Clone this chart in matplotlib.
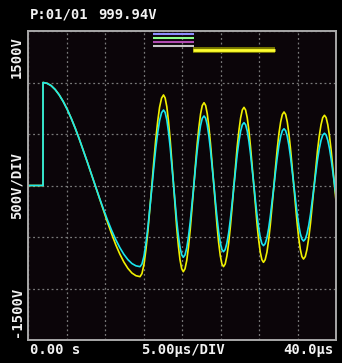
"""
Oscilloscope-style capture: two probe channels, 5 us/DIV, 500 V/DIV.
"""

import matplotlib
import matplotlib.pyplot as plt

matplotlib.use("Agg")

# Sample times (us), shared by both channels.
TIME_US = [
    0.0, 1.95,
    1.95, 2.475, 3.0, 3.525, 4.05, 4.575, 5.1, 5.625, 6.15, 6.675, 7.2, 7.725,
    8.25, 8.775, 9.3, 9.825, 10.35, 10.875, 11.4, 11.925, 12.45, 12.975, 13.5, 14.025,
    14.55, 14.80, 15.06, 15.31, 15.57, 15.82, 16.08, 16.33, 16.58, 16.84, 17.09, 17.35,
    17.6, 17.81, 18.03, 18.24, 18.46, 18.67, 18.89, 19.1, 19.31, 19.53, 19.74, 19.96,
    20.17, 20.39, 20.62, 20.84, 21.07, 21.29, 21.52, 21.74, 21.96, 22.19, 22.41, 22.63,
    22.86, 23.07, 23.28, 23.49, 23.70, 23.91, 24.13, 24.34, 24.55, 24.76, 24.97, 25.18,
    25.39, 25.61, 25.83, 26.06, 26.28, 26.5, 26.72, 26.94, 27.16, 27.39, 27.61, 27.83,
    28.05, 28.26, 28.47, 28.68, 28.89, 29.1, 29.32, 29.53, 29.74, 29.95, 30.16, 30.37,
    30.58, 30.8, 31.03, 31.25, 31.47, 31.69, 31.92, 32.14, 32.36, 32.58, 32.81, 33.03,
    33.25, 33.46, 33.67, 33.88, 34.09, 34.3, 34.52, 34.73, 34.94, 35.15, 35.36, 35.57,
    35.78, 36.01, 36.23, 36.46, 36.69, 36.91, 37.14, 37.37, 37.59, 37.82, 38.05, 38.27,
    38.5, 38.72, 38.93, 39.15, 39.37, 39.58, 39.8, 40.0,
]

CYAN_V = [
    0, 0,
    1000, 992, 970, 932, 880, 815, 738, 650, 553, 448, 337, 223,
    106, -11, -125, -236, -341, -438, -526, -603, -668, -720, -758, -780,
    -788, -762, -686, -565, -408, -224, -28, 169, 353, 510, 631, 707,
    733, 709, 637, 524, 376, 203, 18, -167, -340, -488, -601, -673,
    -697, -674, -605, -496, -354, -189, -11, 167, 332, 474, 583, 652,
    675, 653, 587, 482, 346, 187, 16, -155, -314, -450, -555, -621,
    -643, -622, -559, -460, -330, -179, -17, 146, 297, 426, 526, 589,
    610, 590, 530, 435, 312, 168, 13, -142, -286, -409, -504, -564,
    -584, -565, -508, -418, -300, -163, -17, 130, 267, 385, 475, 532,
    551, 532, 478, 391, 279, 147, 6, -135, -267, -379, -466, -520,
    -539, -521, -469, -386, -278, -151, -16, 119, 246, 354, 437, 489,
    507, 490, 440, 361, 258, 138, 8, -100,
]

YELLOW_V = [
    0, 0,
    1000, 992, 970, 932, 880, 815, 738, 650, 553, 448, 337, 223,
    106, -13, -130, -248, -363, -473, -576, -666, -743, -805, -850, -876,
    -885, -855, -767, -627, -444, -231, -3, 225, 438, 621, 761, 849,
    879, 850, 764, 628, 450, 243, 21, -201, -408, -586, -722, -808,
    -837, -809, -727, -597, -427, -229, -17, 196, 394, 564, 694, 776,
    804, 777, 697, 571, 406, 214, 8, -198, -390, -555, -681, -761,
    -788, -762, -684, -561, -401, -215, -15, 186, 372, 532, 655, 733,
    759, 733, 658, 539, 383, 201, 7, -188, -370, -525, -645, -720,
    -746, -721, -648, -532, -381, -205, -16, 173, 349, 500, 616, 689,
    714, 690, 618, 505, 357, 185, 0, -185, -357, -505, -618, -690,
    -714, -690, -621, -510, -365, -197, -16, 165, 333, 478, 588, 658,
    682, 659, 591, 483, 342, 177, 1, -150,
]

# Record-position indicators along the top of the screen (us span, V level).
INDICATOR_SPAN_US = (16.23, 21.56)
INDICATOR_LEVELS_V = [1471, 1432, 1393, 1359]
INDICATOR_COLORS = ["#8c8cff", "#8cff8c", "#b04cb0", "#c8c8c8"]
TRIGGER_SPAN_US = (21.4, 32.08)
TRIGGER_LEVEL_V = 1311

X_TICKS = list(range(0, 41, 5))
Y_TICKS = list(range(-1500, 1501, 500))

FONT = dict(family="DejaVu Sans Mono", weight="bold", color="#f2f2f2", fontsize=10)

fig = plt.figure(figsize=(3.42, 3.63), dpi=100, facecolor="black")
ax = fig.add_axes([28 / 342, 23 / 363, 308 / 342, 309 / 363])
ax.set_facecolor("#0b0509")

ax.set_xlim(0, 40)
ax.set_ylim(-1500, 1500)
ax.set_xticks(X_TICKS)
ax.set_yticks(Y_TICKS)
ax.tick_params(length=0, labelbottom=False, labelleft=False)
ax.grid(True, color="#7a7a7a", linestyle=(0, (1.5, 2.2)), linewidth=0.9)
for spine in ax.spines.values():
    spine.set_color("#a8a8a8")
    spine.set_linewidth(1.4)

ax.plot(TIME_US, YELLOW_V, color="#f0f000", linewidth=1.2, solid_joinstyle="round")
ax.plot(TIME_US, CYAN_V, color="#19e6f0", linewidth=1.2, solid_joinstyle="round")

for level, color in zip(INDICATOR_LEVELS_V, INDICATOR_COLORS):
    ax.hlines(level, *INDICATOR_SPAN_US, color=color, linewidth=1.5)
ax.hlines(TRIGGER_LEVEL_V, *TRIGGER_SPAN_US, color="#7a7a00", linewidth=4.2)
ax.hlines(TRIGGER_LEVEL_V, *TRIGGER_SPAN_US, color="#ffff30", linewidth=2.0)

# Header and footer readouts
fig.text(30 / 342, 1 - 15 / 363, "P:01/01", ha="left", va="center", **FONT)
fig.text(98 / 342, 1 - 15 / 363, "999.94V", ha="left", va="center", **FONT)
fig.text(30 / 342, 1 - 350 / 363, "0.00 s", ha="left", va="center", **FONT)
fig.text(183 / 342, 1 - 350 / 363, "5.00\u00b5s/DIV", ha="center", va="center", **FONT)
fig.text(334 / 342, 1 - 350 / 363, "40.0\u00b5s", ha="right", va="center", **FONT)

fig.text(17 / 342, 1 - 57 / 363, "1500V", rotation=90, ha="center", va="center", **FONT)
fig.text(17 / 342, 1 - 186 / 363, "500V/DIV", rotation=90, ha="center", va="center", **FONT)
fig.text(17 / 342, 1 - 312 / 363, "-1500V", rotation=90, ha="center", va="center", **FONT)

fig.savefig("out.png", dpi=100, facecolor="black")
